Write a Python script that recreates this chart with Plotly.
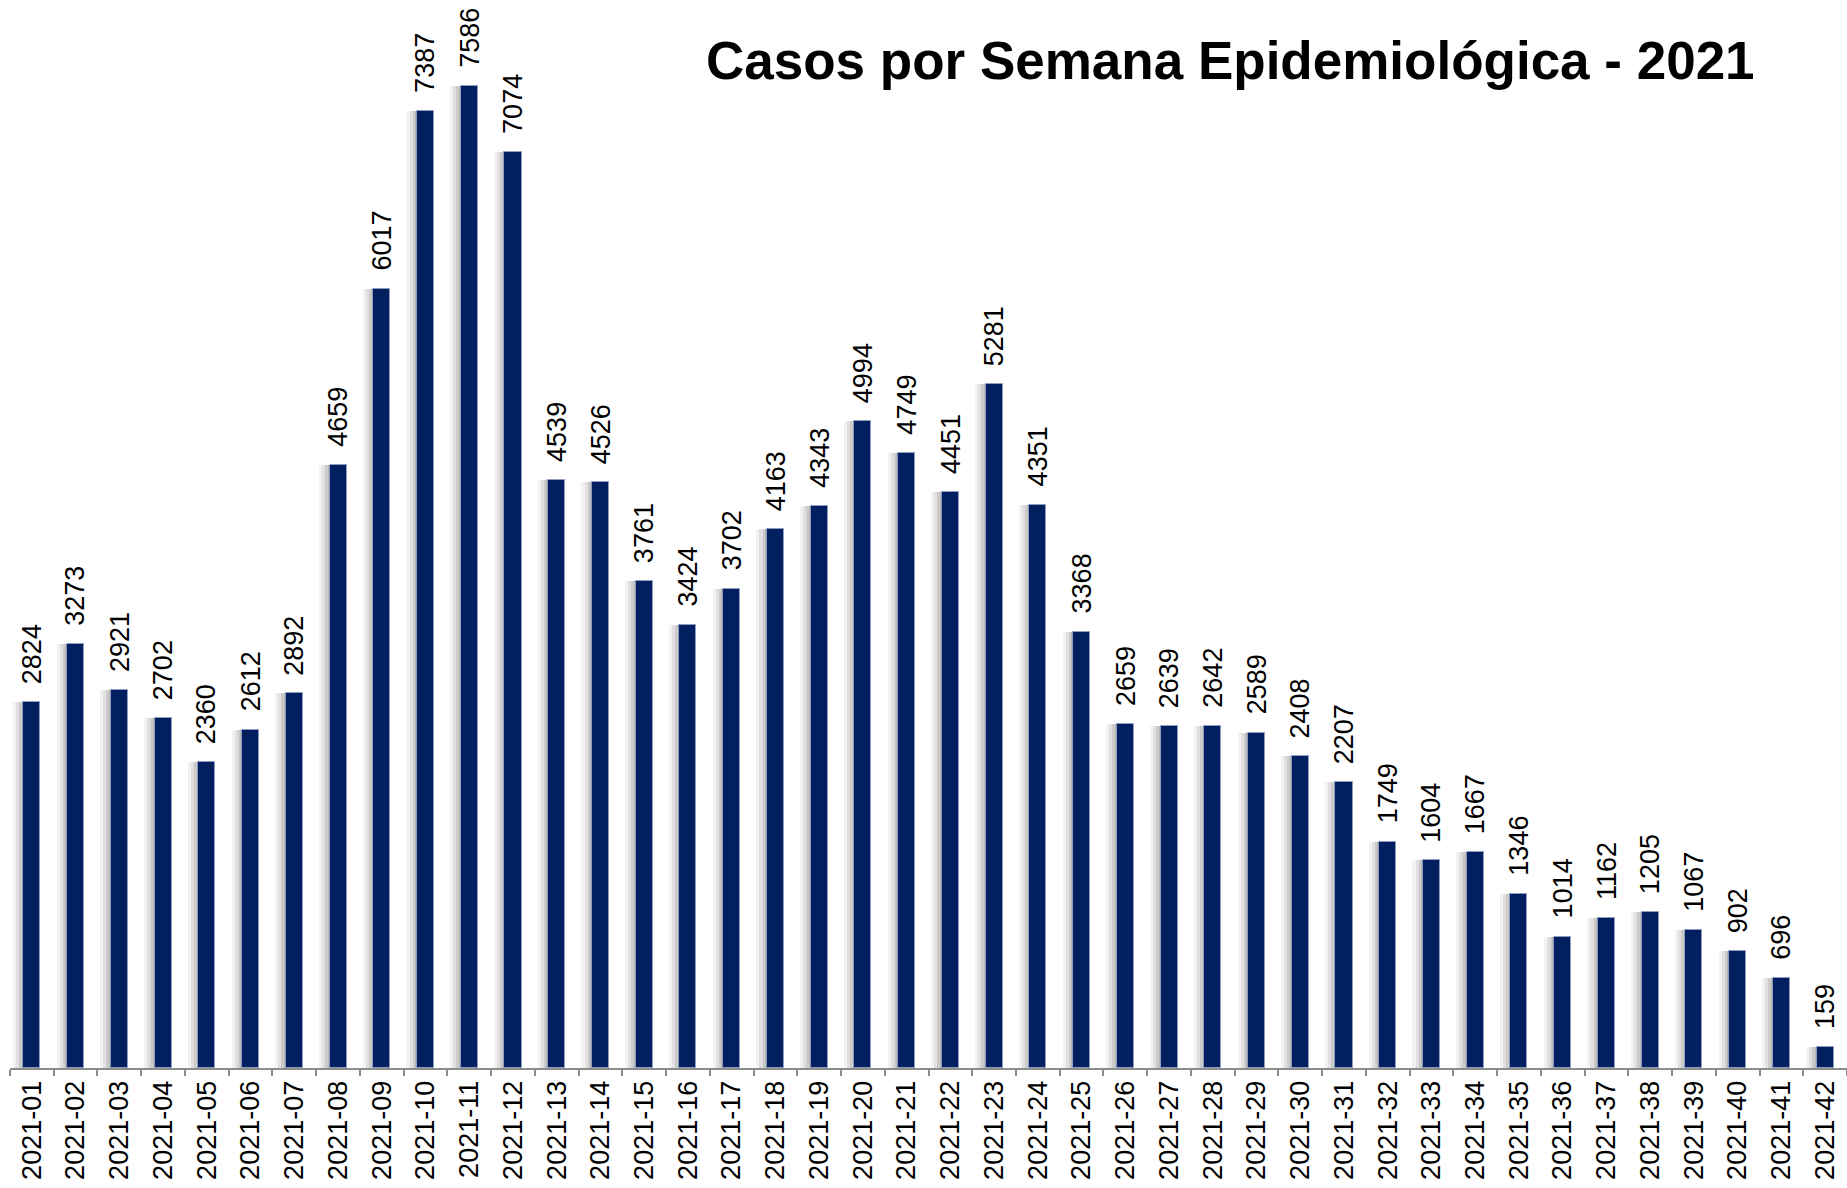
import plotly.graph_objects as go

weeks = ["2021-01", "2021-02", "2021-03", "2021-04", "2021-05", "2021-06", "2021-07",
         "2021-08", "2021-09", "2021-10", "2021-11", "2021-12", "2021-13", "2021-14",
         "2021-15", "2021-16", "2021-17", "2021-18", "2021-19", "2021-20", "2021-21",
         "2021-22", "2021-23", "2021-24", "2021-25", "2021-26", "2021-27", "2021-28",
         "2021-29", "2021-30", "2021-31", "2021-32", "2021-33", "2021-34", "2021-35",
         "2021-36", "2021-37", "2021-38", "2021-39", "2021-40", "2021-41", "2021-42"]
cases = [2824, 3273, 2921, 2702, 2360, 2612, 2892, 4659, 6017, 7387, 7586, 7074, 4539, 4526,
         3761, 3424, 3702, 4163, 4343, 4994, 4749, 4451, 5281, 4351, 3368, 2659, 2639, 2642,
         2589, 2408, 2207, 1749, 1604, 1667, 1346, 1014, 1162, 1205, 1067, 902, 696, 159]
title_text = "Casos por Semana Epidemiológica - 2021"

FONT = "Liberation Sans, Arial, sans-serif"
BAR_W = 0.39

fig = go.Figure()

# soft shadow to the left of each bar
for off, alpha in [(0.24, 0.05), (0.17, 0.07), (0.10, 0.09), (0.04, 0.10)]:
    fig.add_trace(go.Bar(
        x=weeks, y=cases, width=BAR_W, offset=-BAR_W / 2 - off,
        marker=dict(color=f"rgba(0,0,0,{alpha})", line=dict(width=0)),
        hoverinfo="skip", showlegend=False,
    ))

fig.add_trace(go.Bar(
    x=weeks, y=cases, width=BAR_W, offset=-BAR_W / 2,
    marker=dict(color="#00205F", line=dict(color="#8E9CC0", width=1)),
    showlegend=False,
))

for w, v in zip(weeks, cases):
    fig.add_annotation(
        x=w, y=v, xref="x", yref="y", text=str(v), textangle=-90,
        showarrow=False, yanchor="bottom", xanchor="center", yshift=16,
        font=dict(family=FONT, size=27, color="black"),
    )

fig.add_annotation(
    xref="paper", yref="paper", x=(1230 - 10) / 1837, y=1 - 60 / 1068,
    text=f"<b>{title_text}</b>", showarrow=False, xanchor="center", yanchor="middle",
    font=dict(family=FONT, size=53, color="black"),
)

fig.update_layout(
    width=1847, height=1188,
    margin=dict(l=10, r=0, t=0, b=120, autoexpand=False),
    paper_bgcolor="white", plot_bgcolor="white",
    barmode="overlay",
    bargap=0,
    xaxis=dict(
        type="category", showline=True, linecolor="#8C8C8C", linewidth=2,
        ticks="outside", tickson="boundaries", ticklen=6, tickwidth=2, tickcolor="#8C8C8C",
        tickangle=-90, tickfont=dict(family=FONT, size=27, color="black"),
        showgrid=False, zeroline=False, range=[-0.5, 41.5], automargin=False,
    ),
    yaxis=dict(range=[0, 8247], visible=False, showgrid=False, zeroline=False),
)

fig.write_html(
    "out.html",
    config={"displayModeBar": False},
    post_script="document.body.style.margin='0';document.body.style.overflow='hidden';",
)
